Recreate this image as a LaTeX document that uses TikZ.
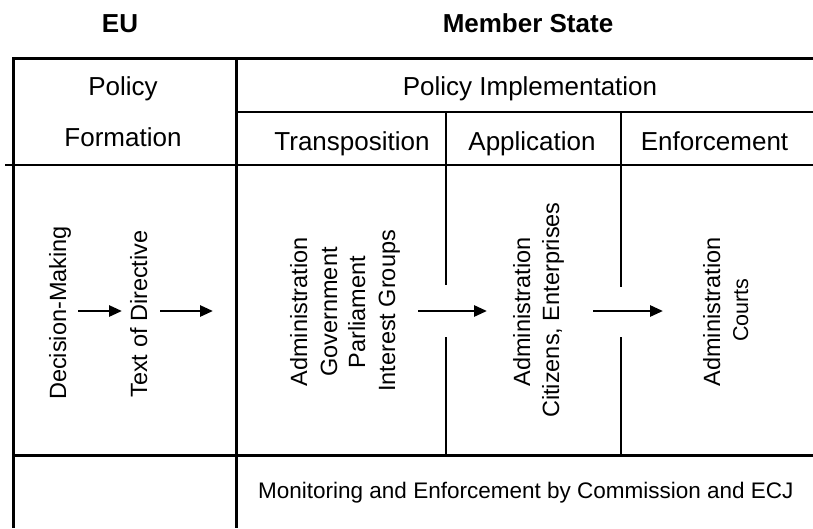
\documentclass[tikz,border=0pt]{standalone}
\usepackage{fontspec}
\setmainfont{Liberation Sans}
\usetikzlibrary{arrows.meta}
\begin{document}
\begin{tikzpicture}[x=1pt,y=-1pt,
  thickrule/.style={line width=3pt},
  thinrule/.style={line width=1.2pt},
  midrule/.style={line width=1.6pt},
  head/.style={font=\fontsize{26}{30}\selectfont, inner sep=0pt, anchor=base},
  tophead/.style={font=\fontsize{26}{30}\selectfont\bfseries, inner sep=0pt, anchor=base},
  body/.style={font=\fontsize{23.5}{28}\selectfont, rotate=90, anchor=base, inner sep=0pt},
  smallbody/.style={font=\fontsize{21.5}{25}\selectfont, rotate=90, anchor=base, inner sep=0pt},
  note/.style={font=\fontsize{22.5}{26}\selectfont, inner sep=0pt, anchor=base west},
  flow/.style={line width=2.7pt, -{Triangle[length=13pt,width=11pt]}}]
\useasboundingbox (0,0) rectangle (813,528);

% rules
\draw[thickrule] (12,58) -- (813,58);
\draw[thickrule] (13,57) -- (13,528);
\draw[thickrule] (236,57) -- (236,528);
\draw[thinrule] (236,112) -- (813,112);
\draw[midrule] (5,165) -- (813,165);
\draw[thickrule] (12,455) -- (813,455);
\draw[thinrule] (446,112) -- (446,285);
\draw[thinrule] (446,337) -- (446,455);
\draw[thinrule] (621,112) -- (621,287);
\draw[thinrule] (621,337) -- (621,455);

% headings
\node[tophead] (eu) at (120,32) {EU};
\node[tophead] (ms) at (528,32) {Member State};
\node[head] (pol) at (123,95) {Policy};
\node[head] (form) at (123,146) {Formation};
\node[head] (impl) at (530,95) {Policy Implementation};
\node[head] (trans) at (352,150) {Transposition};
\node[head] (appl) at (532,150) {Application};
\node[head] (enf) at (714.5,150) {Enforcement};

% rotated body texts
\node[body] (dm) at (66,313) {Decision-Making};
\node[body] (tod) at (147,314) {Text of Directive};
\node[body] (ta1) at (307,312) {Administration};
\node[body] (ta2) at (337,312) {Government};
\node[body] (ta3) at (365,312) {Parliament};
\node[body] (ta4) at (395,311) {Interest Groups};
\node[body] (aa1) at (530,312) {Administration};
\node[body] (aa2) at (559,310) {Citizens,\ Enterprises};
\node[body] (ea1) at (720,312) {Administration};
\node[smallbody] (ea2) at (748,310) {Courts};

\node[note] (mon) at (258,498) {Monitoring and Enforcement by Commission and ECJ};

% arrows
\coordinate (a1s) at (78,311);  \coordinate (a1e) at (122,311);
\coordinate (a2s) at (160,311); \coordinate (a2e) at (213,311);
\coordinate (a3s) at (418,311); \coordinate (a3e) at (487,311);
\coordinate (a4s) at (593,311); \coordinate (a4e) at (663,311);
\draw[flow] (a1s) -- (a1e);
\draw[flow] (a2s) -- (a2e);
\draw[flow] (a3s) -- (a3e);
\draw[flow] (a4s) -- (a4e);
\end{tikzpicture}
\end{document}
